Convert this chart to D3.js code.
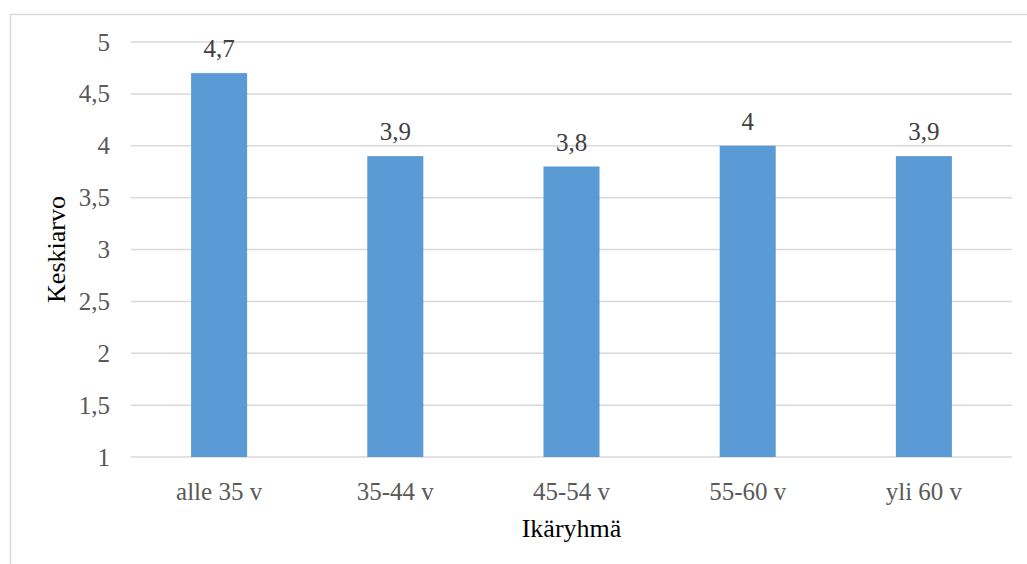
<!DOCTYPE html>
<html>
<head>
<meta charset="utf-8">
<script src="https://cdn.jsdelivr.net/npm/d3@7"></script>
<style>
  html, body { margin: 0; padding: 0; background: #fff; }
  svg { display: block; }
</style>
</head>
<body>
<svg id="chart" width="1027" height="564"></svg>
<script>
// Keskiarvot ikäryhmittäin
const categories = ["alle 35 v", "35-44 v", "45-54 v", "55-60 v", "yli 60 v"];
const values = [4.7, 3.9, 3.8, 4.0, 3.9];
const valueLabels = ["4,7", "3,9", "3,8", "4", "3,9"];
const yTicks = [1, 1.5, 2, 2.5, 3, 3.5, 4, 4.5, 5];
const yTickLabels = ["1", "1,5", "2", "2,5", "3", "3,5", "4", "4,5", "5"];
const xTitle = "Ikäryhmä";
const yTitle = "Keskiarvo";

const W = 1027, H = 564;
const plot = { left: 131, right: 1012, top: 42, bottom: 457 };
const font = "'Liberation Serif', 'Times New Roman', serif";

const svg = d3.select("#chart");

// chart frame
svg.append("rect")
  .attr("x", 10.5).attr("y", 14.5)
  .attr("width", 1030).attr("height", 570)
  .attr("fill", "#fff")
  .attr("stroke", "#d9d9d9").attr("stroke-width", 1.5);

const x = d3.scaleBand()
  .domain(categories)
  .range([plot.left, plot.right])
  .paddingInner(0.682)
  .paddingOuter(0.341);

const y = d3.scaleLinear()
  .domain([1, 5])
  .range([plot.bottom, plot.top]);

// horizontal gridlines
svg.append("g")
  .selectAll("line")
  .data(yTicks)
  .join("line")
  .attr("x1", plot.left).attr("x2", plot.right)
  .attr("y1", d => y(d)).attr("y2", d => y(d))
  .attr("stroke", "#d9d9d9").attr("stroke-width", 1.5);

// y axis labels
const yAxis = d3.axisLeft(y)
  .tickValues(yTicks)
  .tickFormat((d, i) => yTickLabels[i])
  .tickSize(0)
  .tickPadding(21);
const gy = svg.append("g")
  .attr("transform", `translate(${plot.left},0)`)
  .call(yAxis)
  .attr("font-family", font).attr("font-size", 25);
gy.select(".domain").remove();
gy.selectAll("text").attr("fill", "#595959");

// x axis labels
const xAxis = d3.axisBottom(x).tickSize(0).tickPadding(25);
const gx = svg.append("g")
  .attr("transform", `translate(0,${plot.bottom})`)
  .call(xAxis)
  .attr("font-family", font).attr("font-size", 25);
gx.select(".domain").remove();
gx.selectAll("text").attr("fill", "#595959");

// bars
svg.append("g")
  .selectAll("rect")
  .data(values)
  .join("rect")
  .attr("x", (d, i) => x(categories[i]))
  .attr("y", d => y(d))
  .attr("width", x.bandwidth())
  .attr("height", d => y(1) - y(d))
  .attr("fill", "#5b9bd5");

// value labels
svg.append("g")
  .selectAll("text")
  .data(values)
  .join("text")
  .attr("x", (d, i) => x(categories[i]) + x.bandwidth() / 2)
  .attr("y", d => y(d) - 16)
  .attr("text-anchor", "middle")
  .attr("font-family", font).attr("font-size", 25)
  .attr("fill", "#404040")
  .text((d, i) => valueLabels[i]);

// axis titles
svg.append("text")
  .attr("x", (plot.left + plot.right) / 2)
  .attr("y", 537)
  .attr("text-anchor", "middle")
  .attr("font-family", font).attr("font-size", 26)
  .attr("fill", "#000")
  .text(xTitle);

svg.append("text")
  .attr("transform", `translate(65,${(plot.top + plot.bottom) / 2}) rotate(-90)`)
  .attr("text-anchor", "middle")
  .attr("font-family", font).attr("font-size", 26)
  .attr("fill", "#000")
  .text(yTitle);
</script>
</body>
</html>
